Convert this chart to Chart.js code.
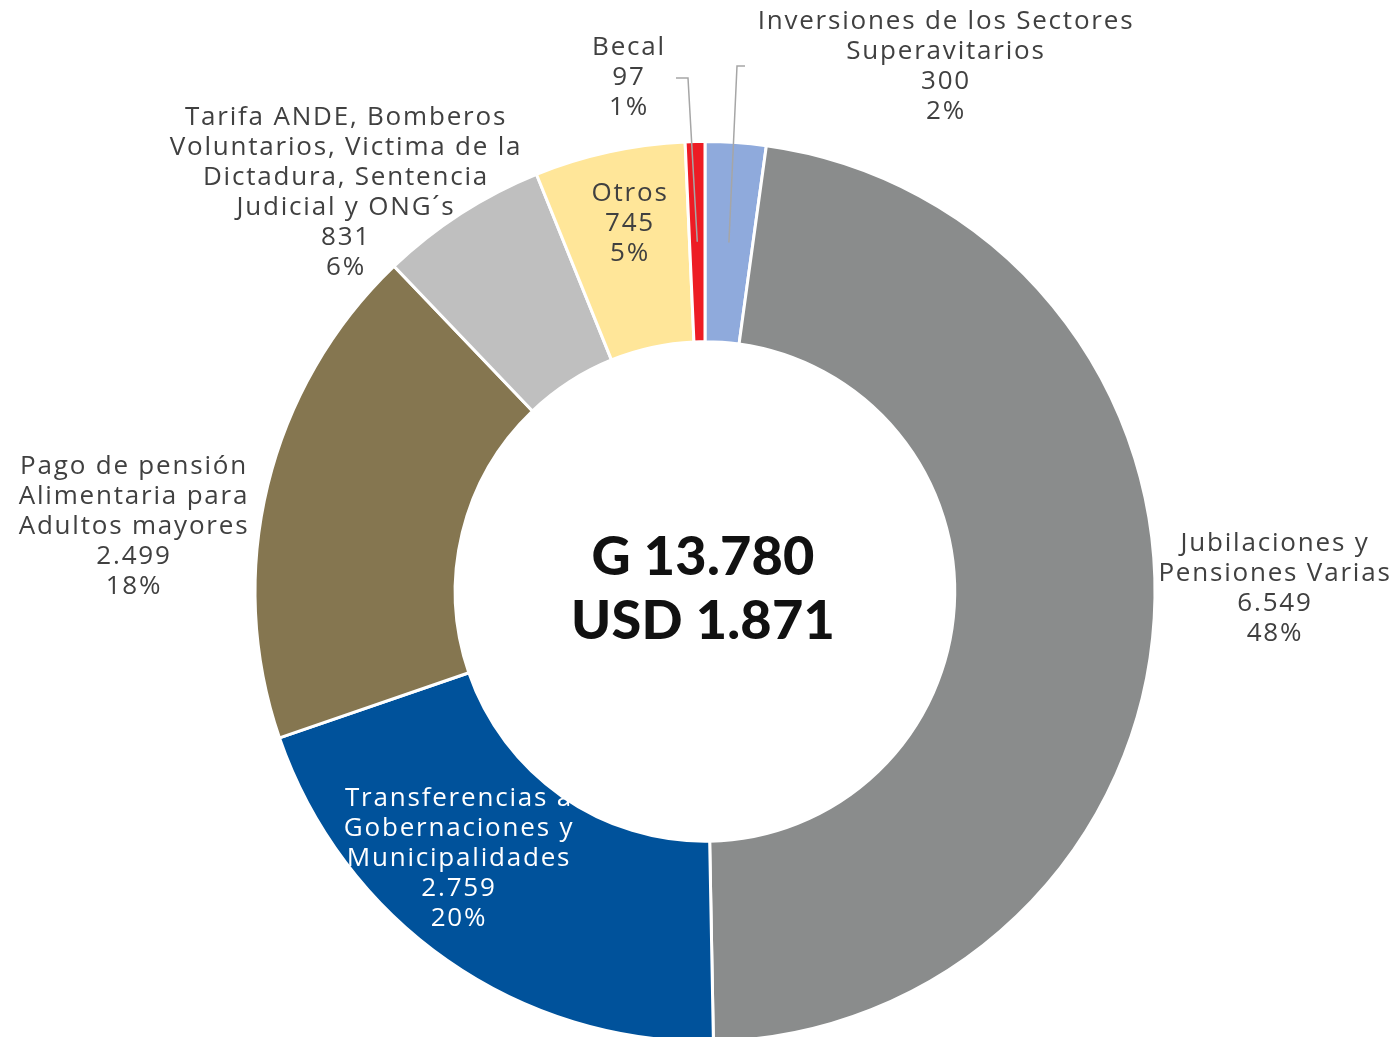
<!DOCTYPE html>
<html><head><meta charset="utf-8">
<script src="https://cdn.jsdelivr.net/npm/chart.js@4"></script>
<style>html,body{margin:0;padding:0;background:#fff;overflow:hidden;width:1396px;height:1037px;}#wrap{width:1396px;height:1043px;position:relative;}</style>
</head><body><div id="wrap"><canvas id="c"></canvas></div>
<script>
const categories = ["Inversiones de los Sectores Superavitarios","Jubilaciones y Pensiones Varias","Transferencias a Gobernaciones y Municipalidades","Pago de pensión Alimentaria para Adultos mayores","Tarifa ANDE, Bomberos Voluntarios, Victima de la Dictadura, Sentencia Judicial y ONG´s","Otros","Becal"];
const labelLines = [["Inversiones de los Sectores","Superavitarios"],["Jubilaciones y","Pensiones Varias"],["Transferencias a","Gobernaciones y","Municipalidades"],["Pago de pensión","Alimentaria para","Adultos mayores"],["Tarifa ANDE, Bomberos","Voluntarios, Victima de la","Dictadura, Sentencia","Judicial y ONG´s"],["Otros"],["Becal"]];
const values = [300,6549,2759,2499,831,745,97];
const valueLabels = ["300","6.549","2.759","2.499","831","745","97"];
const percentLabels = ["2%","48%","20%","18%","6%","5%","1%"];
const colors = ["#8FAADC","#8A8C8C","#00529B","#857650","#BFBFBF","#FFE699","#ED1C24"];
const centerLines = ["G 13.780","USD 1.871"];

// label placement (layout only)
const labelPos = [{x:945,y:22},{x:1274,y:544},{x:458,y:799},{x:133,y:467},{x:345,y:118},{x:629,y:194},{x:628,y:48}];
const labelColor = ["#404040","#404040","#ffffff","#404040","#404040","#404040","#404040"];
const leaders = {0:{x1:745,x2:737,y:66},6:{x1:676,x2:688,y:78}};

const labelPlugin = {
  id:'labels',
  afterDatasetsDraw(chart){
    const ctx = chart.ctx;
    const meta = chart.getDatasetMeta(0);
    ctx.save();
    ctx.strokeStyle = "#A6A6A6"; ctx.lineWidth = 1.5;
    Object.keys(leaders).forEach(k=>{
      const L = leaders[k]; const arc = meta.data[k];
      const p = arc.tooltipPosition();
      ctx.beginPath(); ctx.moveTo(L.x1,L.y); ctx.lineTo(L.x2,L.y); ctx.lineTo(p.x,p.y); ctx.stroke();
    });
    ctx.font = "26px 'Open Sans'";
    ctx.letterSpacing = "1.8px";
    ctx.textAlign = "center"; ctx.textBaseline = "middle";
    labelLines.forEach((lines,i)=>{
      const all = lines.concat([valueLabels[i], percentLabels[i]]);
      ctx.fillStyle = labelColor[i];
      all.forEach((t,j)=>ctx.fillText(t, labelPos[i].x + 1, labelPos[i].y + j*30));
    });
    const cx = (chart.chartArea.left+chart.chartArea.right)/2;
    const cy = (chart.chartArea.top+chart.chartArea.bottom)/2;
    ctx.fillStyle = "#111111";
    ctx.font = "900 54px Lato";
    ctx.letterSpacing = "0.2px";
    ctx.fillText(centerLines[0], cx-2, cy-34);
    ctx.fillText(centerLines[1], cx-2, cy+30);
    ctx.restore();
  }
};

new Chart(document.getElementById('c'), {
  type:'doughnut',
  data:{labels:categories, datasets:[{data:values, backgroundColor:colors, borderColor:"#ffffff", borderWidth:3}]},
  options:{
    responsive:true, maintainAspectRatio:false, animation:false,
    cutout:'55.5%', rotation:0,
    layout:{padding:{top:140,bottom:0,left:14,right:0}},
    plugins:{legend:{display:false}, tooltip:{enabled:false}}
  },
  plugins:[labelPlugin]
});
</script></body></html>
